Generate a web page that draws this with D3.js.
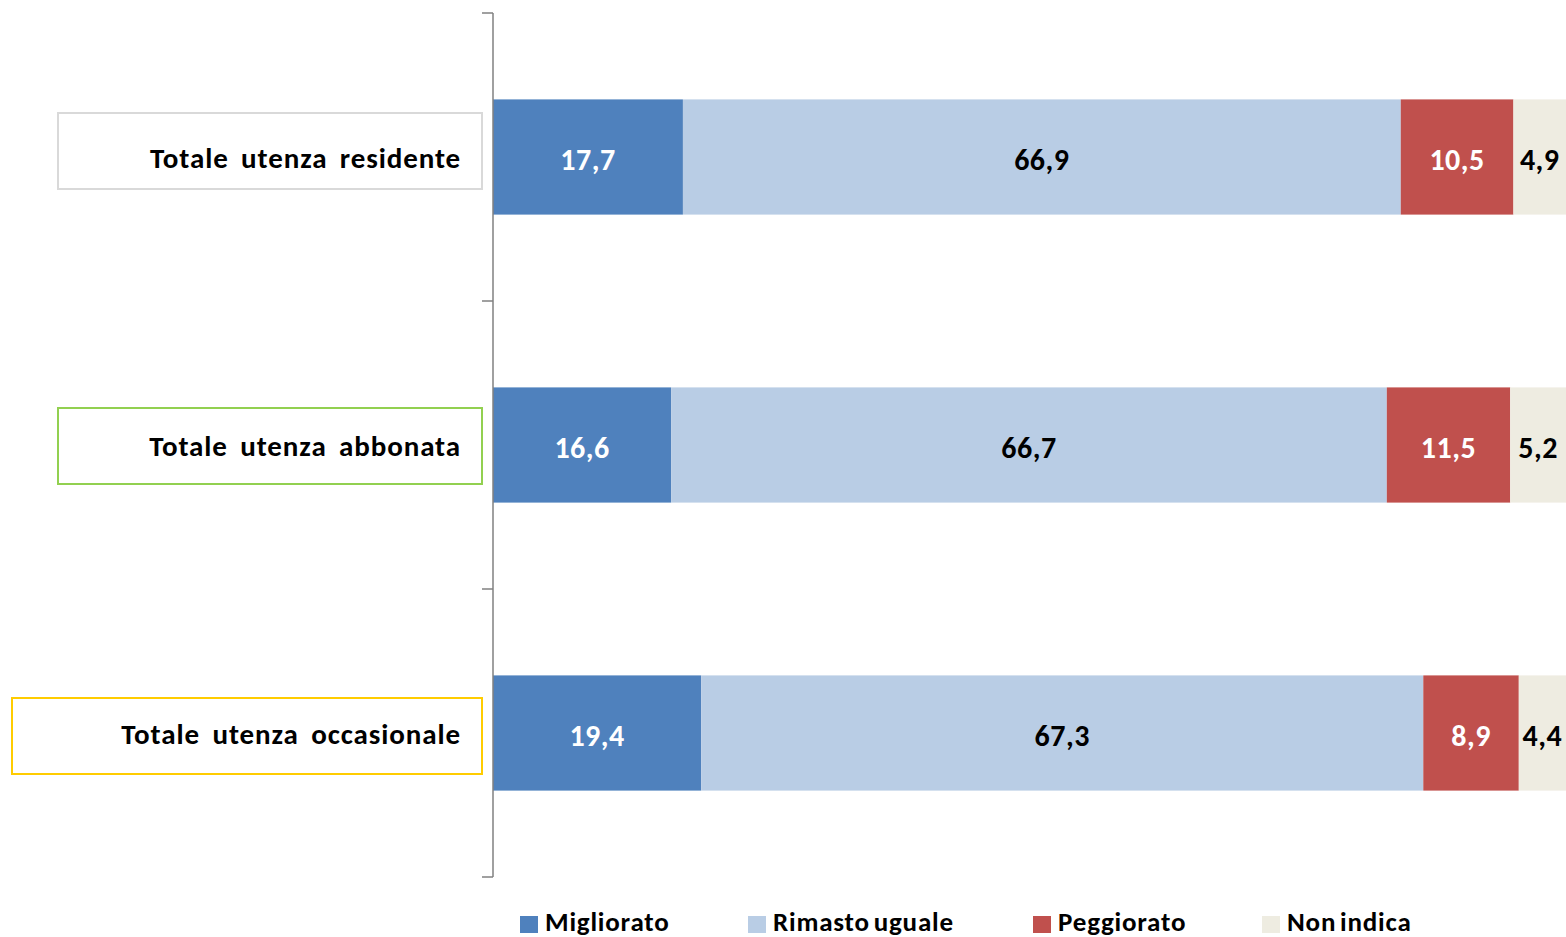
<!DOCTYPE html>
<html><head><meta charset="utf-8">
<script src="https://cdn.jsdelivr.net/npm/d3@7"></script>
<style>html,body{margin:0;padding:0;background:#fff;}svg{display:block;}</style>
</head><body>
<svg id="chart" width="1566" height="937"></svg>
<script>
const categories = ["Totale utenza residente","Totale utenza abbonata","Totale utenza occasionale"];
const seriesNames = ["Migliorato","Rimasto uguale","Peggiorato","Non indica"];
const migliorato = [17.7,16.6,19.4];
const rimasto = [66.9,66.7,67.3];
const peggiorato = [10.5,11.5,8.9];
const nonIndica = [4.9,5.2,4.4];
const colors = ["#4F81BD","#B9CDE5","#C0504D","#EEECE1"];
const labelColors = ["#fff","#000","#fff","#000"];
const boxBorders = ["#D9D9D9","#92D050","#FFCC00"];
const boxLeft = [58,58,12];
const boxDy = [-6,1,3];

const font = "Carlito, Calibri, Lato, 'Open Sans', sans-serif";
const svg = d3.select("#chart");
const x = d3.scaleLinear().domain([0,100]).range([493,1566]);
const y = d3.scaleBand().domain(categories).range([13,877]).paddingInner(0.6).paddingOuter(0.3);

const rows = categories.map((c,i)=>({cat:c, vals:[migliorato[i],rimasto[i],peggiorato[i],nonIndica[i]]}));
const stackData = rows.map(r=>{const o={cat:r.cat}; seriesNames.forEach((s,j)=>o[s]=r.vals[j]); return o;});
const stacked = d3.stack().keys(seriesNames)(stackData);

stacked.forEach((layer,j)=>{
  const g = svg.append("g");
  g.selectAll("rect").data(layer).join("rect")
    .attr("x",d=>x(d[0])).attr("width",d=>x(d[1])-x(d[0]))
    .attr("y",d=>y(d.data.cat)).attr("height",y.bandwidth())
    .attr("fill",colors[j]);
  g.selectAll("text").data(layer).join("text")
    .attr("x",d=>(x(d[0])+x(d[1]))/2)
    .attr("y",d=>y(d.data.cat)+y.bandwidth()/2+13)
    .attr("text-anchor","middle")
    .attr("font-family",font).attr("font-weight","bold").attr("font-size",30)
    .attr("letter-spacing",0.5)
    .attr("fill",labelColors[j])
    .text(d=>d3.format(".1f")(d[1]-d[0]).replace(".",","));
});

// axis
const axis = svg.append("g");
axis.append("line").attr("x1",493).attr("x2",493).attr("y1",y.range()[0]).attr("y2",y.range()[1])
  .attr("stroke","#808080").attr("stroke-width",1.5);
const step = y.step();
d3.range(categories.length+1).forEach(k=>{
  const ty = y.range()[0]+k*step;
  axis.append("line").attr("x1",482).attr("x2",493).attr("y1",ty).attr("y2",ty)
    .attr("stroke","#808080").attr("stroke-width",1.5);
});

// category boxes
categories.forEach((c,i)=>{
  const cy = y(c)+y.bandwidth()/2;
  svg.append("rect").attr("x",boxLeft[i]).attr("y",cy+boxDy[i]-38).attr("width",482-boxLeft[i]).attr("height",76)
    .attr("fill","#fff").attr("stroke",boxBorders[i]).attr("stroke-width",2);
  svg.append("text").attr("x",461).attr("y",cy+10.5)
    .attr("text-anchor","end")
    .attr("font-family",font).attr("font-weight","bold").attr("font-size",29)
    .attr("letter-spacing",0.9).attr("word-spacing",5).attr("fill","#000").text(c);
});

// legend
const legendX = [520,748,1033,1262];
seriesNames.forEach((s,j)=>{
  svg.append("rect").attr("x",legendX[j]).attr("y",916).attr("width",18).attr("height",17).attr("fill",colors[j]);
  svg.append("text").attr("x",legendX[j]+25).attr("y",931)
    .attr("font-family",font).attr("font-weight","bold").attr("font-size",27)
    .attr("letter-spacing",0.8).attr("word-spacing",-3).attr("fill","#000").text(s);
});
</script>
</body></html>
